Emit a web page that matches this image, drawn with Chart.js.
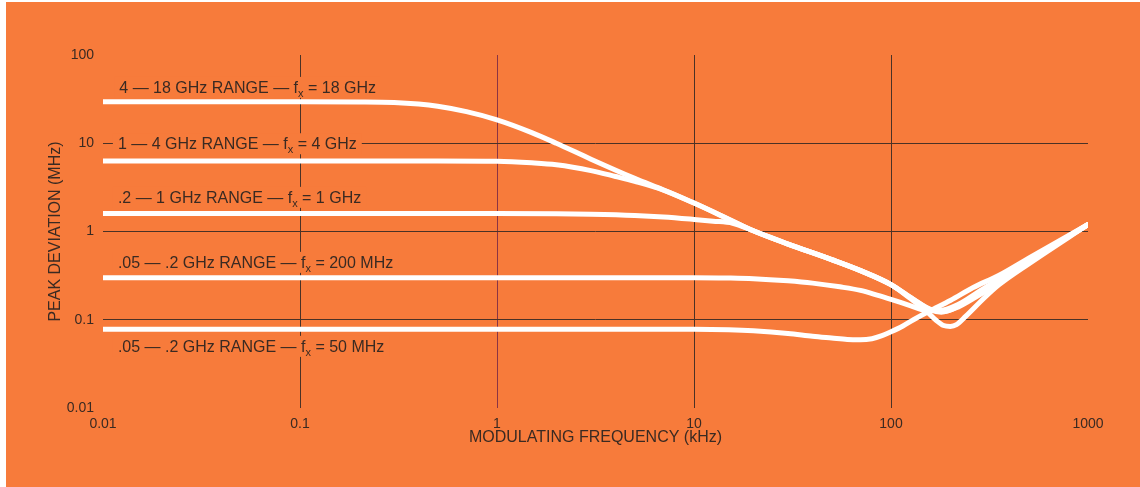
<!DOCTYPE html>
<html>
<head>
<meta charset="utf-8">
<script src="https://cdn.jsdelivr.net/npm/chart.js@4/dist/chart.umd.min.js"></script>
<style>
  html, body { margin: 0; padding: 0; background: #ffffff; }
  #wrap { width: 1140px; height: 487px; position: relative; }
</style>
</head>
<body>
<div id="wrap"><canvas id="c" width="1140" height="487"></canvas></div>
<script>
// ---------- DATA (kHz -> MHz) ----------
const xTicks = [0.01, 0.1, 1, 10, 100, 1000];
const xTickLabels = ['0.01', '0.1', '1', '10', '100', '1000'];
const yTicks = [0.01, 0.1, 1, 10, 100];
const yTickLabels = ['0.01', '0.1', '1', '10', '100'];

const freq18 = [0.01, 0.1, 0.2, 0.3, 0.4, 0.5, 0.7, 1, 1.5, 2, 3, 5, 7, 10, 15, 20, 30, 50, 70, 100, 125, 150, 170, 185, 200, 215, 240, 300, 354, 500, 1000];
const dev18  = [29.5, 29.5, 29.4, 29.0, 27.8, 26.2, 22.8, 18.4, 13.2, 10, 6.6, 4.0, 2.95, 2.1, 1.38, 1.02, 0.72, 0.48, 0.36, 0.25, 0.175, 0.128, 0.098, 0.086, 0.084, 0.088, 0.11, 0.18, 0.25, 0.43, 1.2];

const freq4 = [0.01, 0.1, 0.5, 1, 1.5, 2, 3, 4, 5, 7, 10, 15, 20, 30, 50, 70, 100, 130, 160, 185, 220, 280, 354, 500, 1000];
const dev4  = [6.3, 6.3, 6.3, 6.25, 6.0, 5.7, 4.9, 4.2, 3.7, 2.95, 2.1, 1.38, 1.02, 0.72, 0.48, 0.36, 0.25, 0.17, 0.13, 0.124, 0.143, 0.2, 0.27, 0.46, 1.2];

const freq1 = [0.01, 0.1, 1, 2, 3, 5, 7, 10, 12.5, 15.7, 20, 30, 50, 70, 100, 130, 160, 180, 220, 280, 354, 500, 1000];
const dev1  = [1.6, 1.6, 1.6, 1.59, 1.57, 1.52, 1.46, 1.37, 1.31, 1.24, 1.02, 0.72, 0.48, 0.36, 0.25, 0.17, 0.128, 0.122, 0.14, 0.19, 0.26, 0.45, 1.2];

const freq200 = [0.01, 0.1, 1, 10, 15, 20, 30, 40, 55, 70, 85, 100, 125, 150, 175, 220, 280, 354, 500, 1000];
const dev200  = [0.30, 0.30, 0.30, 0.30, 0.297, 0.292, 0.276, 0.26, 0.236, 0.215, 0.19, 0.17, 0.145, 0.128, 0.127, 0.15, 0.21, 0.29, 0.47, 1.2];

const freq50 = [0.01, 0.1, 1, 10, 15, 20, 30, 40, 50, 60, 70, 80, 90, 100, 115, 130, 156, 200, 260, 354, 500, 1000];
const dev50  = [0.078, 0.078, 0.078, 0.078, 0.077, 0.075, 0.07, 0.065, 0.062, 0.0597, 0.0593, 0.061, 0.066, 0.073, 0.085, 0.1, 0.125, 0.165, 0.23, 0.32, 0.5, 1.2];

// curve labels: [text before subscript, subscript, text after], anchored at (kHz, MHz)
const labelTexts = [
  ['4 \u2014 18 GHz RANGE \u2014 f', 'x', ' = 18 GHz'],
  ['1 \u2014 4 GHz RANGE \u2014 f', 'x', ' = 4 GHz'],
  ['.2 \u2014 1 GHz RANGE \u2014 f', 'x', ' = 1 GHz'],
  ['.05 \u2014 .2 GHz RANGE \u2014 f', 'x', ' = 200 MHz'],
  ['.05 \u2014 .2 GHz RANGE \u2014 f', 'x', ' = 50 MHz']
];
const labelFreq = [0.0121, 0.0119, 0.0119, 0.0119, 0.0119];
const labelDev  = [43.5, 10, 2.47, 0.453, 0.0506];

const xTitle = 'MODULATING FREQUENCY (kHz)';
const yTitle = 'PEAK DEVIATION (MHz)';

// ---------- STYLE ----------
const ORANGE = 'rgb(247,123,59)';
const INK = '#3a2a22';
const GRID = '#4a3226';
const FONT = '"Liberation Sans", Arial, sans-serif';

function pts(xs, ys) { return xs.map((x, i) => ({ x: x, y: ys[i] })); }
function ds(xs, ys) {
  return {
    data: pts(xs, ys),
    borderColor: '#ffffff',
    borderWidth: 5,
    pointRadius: 0,
    fill: false,
    cubicInterpolationMode: 'monotone',
    borderCapStyle: 'round',
    borderJoinStyle: 'round'
  };
}

const bgPlugin = {
  id: 'bg',
  beforeDraw(chart) {
    const c = chart.ctx;
    c.save();
    c.fillStyle = '#ffffff';
    c.fillRect(0, 0, chart.width, chart.height);
    c.fillStyle = ORANGE;
    c.fillRect(6, 2, chart.width - 6, chart.height - 2);
    c.restore();
  }
};

const labelPlugin = {
  id: 'labels',
  afterDraw(chart) {
    const c = chart.ctx;
    const xs = chart.scales.x, ys = chart.scales.y;
    const ca = chart.chartArea;
    c.save();
    const main = '16px ' + FONT;
    const sub = '11px ' + FONT;
    labelTexts.forEach((parts, i) => {
      const x0 = xs.getPixelForValue(labelFreq[i]);
      const yc = ys.getPixelForValue(labelDev[i]);
      c.font = main;
      const w1 = c.measureText(parts[0]).width;
      const w3 = c.measureText(parts[2]).width;
      c.font = sub;
      const w2 = c.measureText(parts[1]).width;
      const total = w1 + w2 + w3;
      c.fillStyle = ORANGE;
      c.fillRect(x0 - 5, yc - 10, total + 10, 21);
      c.fillStyle = INK;
      c.textBaseline = 'alphabetic';
      c.textAlign = 'left';
      const base = yc + 6;
      c.font = main;
      c.fillText(parts[0], x0, base);
      c.font = sub;
      c.fillText(parts[1], x0 + w1, base + 4);
      c.font = main;
      c.fillText(parts[2], x0 + w1 + w2, base);
    });
    // axis titles
    c.font = '16px ' + FONT;
    c.fillStyle = INK;
    c.textAlign = 'center';
    c.textBaseline = 'middle';
    c.fillText(xTitle, (ca.left + ca.right) / 2, 438);
    c.translate(56, (ca.top + ca.bottom) / 2);
    c.rotate(-Math.PI / 2);
    c.fillText(yTitle, 0, 0);
    c.restore();
  }
};

const xGridVals = [0.1, 1, 10, 100];
const yGridVals = [0.1, 1, 10];
function near(v, arr) { return arr.some(a => Math.abs(Math.log10(v) - Math.log10(a)) < 1e-6); }

new Chart(document.getElementById('c'), {
  type: 'line',
  data: {
    datasets: [ds(freq18, dev18), ds(freq4, dev4), ds(freq1, dev1), ds(freq200, dev200), ds(freq50, dev50)]
  },
  options: {
    responsive: false,
    animation: false,
    events: [],
    layout: { padding: { left: 0, right: 52, top: 55, bottom: 0 } },
    plugins: { legend: { display: false }, tooltip: { enabled: false } },
    scales: {
      x: {
        type: 'logarithmic',
        min: 0.01, max: 1000,
        afterBuildTicks(s) { s.ticks = xTicks.map(v => ({ value: v })); },
        afterFit(s) { s.height = 79; },
        border: { display: false },
        grid: {
          drawTicks: false,
          lineWidth: 1,
          color: (ctx) => {
            const v = ctx.tick && ctx.tick.value;
            if (!v || !near(v, xGridVals)) return 'rgba(0,0,0,0)';
            return near(v, [1]) ? '#8a3444' : GRID;
          }
        },
        ticks: {
          autoSkip: false,
          maxRotation: 0,
          padding: 8,
          color: INK,
          font: { family: FONT, size: 14 },
          callback: (v) => { const i = xTicks.findIndex(t => near(v, [t])); return i >= 0 ? xTickLabels[i] : ''; }
        }
      },
      y: {
        type: 'logarithmic',
        min: 0.01, max: 100,
        afterBuildTicks(s) { s.ticks = yTicks.map(v => ({ value: v })); },
        afterFit(s) { s.width = 103; },
        border: { display: false },
        grid: {
          drawTicks: false,
          lineWidth: 1,
          color: (ctx) => {
            const v = ctx.tick && ctx.tick.value;
            return (v && near(v, yGridVals)) ? GRID : 'rgba(0,0,0,0)';
          }
        },
        ticks: {
          autoSkip: false,
          padding: 9,
          color: INK,
          font: { family: FONT, size: 14 },
          callback: (v) => { const i = yTicks.findIndex(t => near(v, [t])); return i >= 0 ? yTickLabels[i] : ''; }
        }
      }
    }
  },
  plugins: [bgPlugin, labelPlugin]
});
</script>
</body>
</html>
